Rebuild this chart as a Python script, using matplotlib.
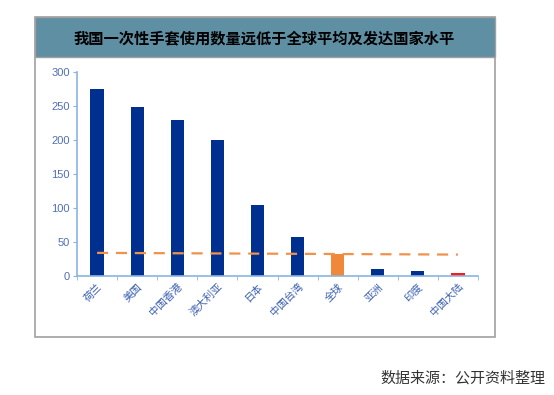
import matplotlib
matplotlib.use("Agg")
import matplotlib.pyplot as plt
from matplotlib.patches import Rectangle

plt.rcParams['font.family'] = ['Noto Sans CJK SC', 'DejaVu Sans']

# =====================================================
# DADOS
# =====================================================
categories = ["荷兰", "美国", "中国香港", "澳大利亚", "日本", "中国台湾", "全球", "亚洲", "印度", "中国大陆"]
values = [275, 249, 229, 200, 104, 57, 32, 10, 7, 5]
bar_colors = ["#00308f"] * 6 + ["#f0883a"] + ["#00308f"] * 2 + ["#ff1a1a"]
avg_line = [34, 31.5]   # linha tracejada (inicio, fim)
yticks = [0, 50, 100, 150, 200, 250, 300]

title = "我国一次性手套使用数量远低于全球平均及发达国家水平"
source = "数据来源：公开资料整理"

# =====================================================
# FIGURA
# =====================================================
fig = plt.figure(figsize=(5.54, 3.95), dpi=100)

W, H = 554, 395

# moldura e faixa do titulo
fig.patches.append(Rectangle((35 / W, 1 - 337 / H), 460 / W, 320 / H,
                             transform=fig.transFigure, facecolor="white",
                             edgecolor="#a0a0a0", lw=1.2, zorder=-10))
fig.patches.append(Rectangle((35 / W, 1 - 57 / H), 460 / W, 40 / H,
                             transform=fig.transFigure, facecolor="#5e8fa3",
                             edgecolor="#a0a0a0", lw=1.0, zorder=-9))
fig.text(264 / W, 1 - 38 / H, title, ha="center", va="center",
         fontsize=11, fontweight="bold", color="black")

ax = fig.add_axes([77 / W, 1 - 276 / H, 401 / W, 204 / H])
ax.patch.set_alpha(0)
x = list(range(len(categories)))
ax.bar(x, values, width=0.33, color=bar_colors)
ax.plot([x[0], x[-1]], avg_line, linestyle=(0, (5, 3.5)), color="#f0924a", lw=1.6)

ax.set_xlim(-0.5, len(categories) - 0.5)
ax.set_ylim(0, 300)
ax.set_yticks(yticks)
ax.set_yticklabels([str(v) for v in yticks], family="Liberation Sans")
ax.set_xticks(x)
ax.set_xticklabels(categories, rotation=45, ha="right", rotation_mode="anchor",
                   fontsize=7.5, color="#3a5fb0")
ax.set_xticks([i + 0.5 for i in x[:-1]] + [-0.5, 9.5], minor=True)
ax.tick_params(axis="x", which="major", length=0, pad=4)
ax.tick_params(axis="x", which="minor", length=3, color="#8ab4e0", direction="out")
ax.tick_params(axis="y", length=3, color="#8ab4e0", labelcolor="#4f6fb5", labelsize=8, pad=2)

for s in ["top", "right"]:
    ax.spines[s].set_visible(False)
for s in ["left", "bottom"]:
    ax.spines[s].set_color("#8ab4e0")
    ax.spines[s].set_linewidth(1.2)

fig.text(545 / W, 1 - 378 / H, source, ha="right", va="center",
         fontsize=10.8, color="#333333")

fig.savefig("out.png", dpi=100)
